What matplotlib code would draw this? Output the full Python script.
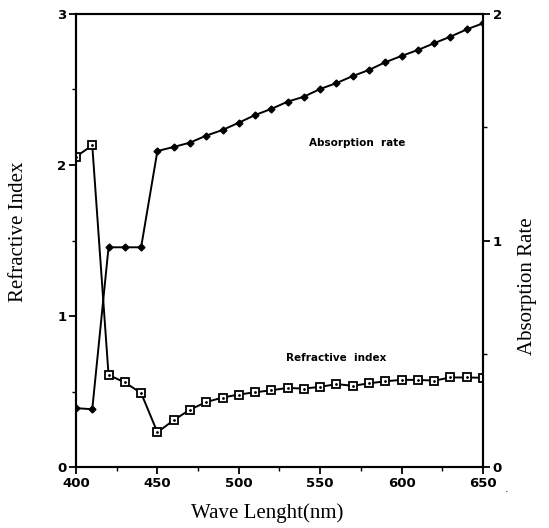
import matplotlib.pyplot as plt
from matplotlib.ticker import MultipleLocator

# wave length steps (nm)
wave = [400, 410, 420, 430, 440, 450, 460, 470, 480, 490, 500, 510, 520,
        530, 540, 550, 560, 570, 580, 590, 600, 610, 620, 630, 640, 650]

# refractive index (left axis)
refr = [2.055, 2.13, 0.61, 0.56, 0.49, 0.23, 0.31, 0.38, 0.43, 0.46, 0.48,
        0.495, 0.508, 0.524, 0.519, 0.531, 0.549, 0.538, 0.554, 0.568, 0.577,
        0.577, 0.572, 0.593, 0.593, 0.591]

# absorption rate (right axis)
absr = [0.26, 0.255, 0.97, 0.97, 0.97, 1.395, 1.413, 1.432, 1.463, 1.488,
        1.52, 1.554, 1.581, 1.613, 1.635, 1.669, 1.695, 1.726, 1.753, 1.787,
        1.815, 1.841, 1.871, 1.90, 1.932, 1.959]

tickfont = {"family": "DejaVu Sans", "weight": "bold", "size": 9.5}
labelfont = {"family": "Liberation Serif", "size": 15}

fig = plt.figure(figsize=(5.49, 5.28), dpi=100)
ax = fig.add_axes([0.1384, 0.1155, 0.7414, 0.858])
ax2 = ax.twinx()

ax.plot(wave, refr, color="black", lw=1.4, marker="s", ms=5.5,
        mfc="white", mec="black", mew=1.3, zorder=3)
ax.plot(wave, refr, ls="none", marker=".", ms=2, color="black", zorder=4)
ax2.plot(wave, absr, color="black", lw=1.4, marker="D", ms=3.5,
         mfc="black", mec="black")

ax.set_xlim(400, 650)
ax.set_ylim(0, 3)
ax2.set_ylim(0, 2)

ax.xaxis.set_major_locator(MultipleLocator(50))
ax.xaxis.set_minor_locator(MultipleLocator(25))
ax.yaxis.set_major_locator(MultipleLocator(1))
ax.yaxis.set_minor_locator(MultipleLocator(0.5))
ax2.yaxis.set_major_locator(MultipleLocator(1))
ax2.yaxis.set_minor_locator(MultipleLocator(0.5))

for a in (ax, ax2):
    for s in a.spines.values():
        s.set_linewidth(1.5)
    a.tick_params(which="major", length=5, width=1.3, direction="out", pad=2)
    a.tick_params(which="minor", length=3, width=1.0, direction="out")

ax.set_xticks(ax.get_xticks())
ax.set_xticklabels([str(int(v)) for v in ax.get_xticks()], fontdict=tickfont)
ax.set_yticks([0, 1, 2, 3])
ax.set_yticklabels(["0", "1", "2", "3"], fontdict=tickfont)
ax2.set_yticks([0, 1, 2])
ax2.set_yticklabels(["0", "1", "2"], fontdict=tickfont)
ax.set_xlim(400, 650)

ax.set_xlabel("Wave Lenght(nm)", fontdict=labelfont)
ax.xaxis.set_label_coords(0.47, -0.08)
ax.set_ylabel("Refractive Index", fontdict=labelfont)
ax.yaxis.set_label_coords(-0.118, 0.52)
ax2.set_ylabel("Absorption Rate", fontdict=labelfont, rotation=90)
ax2.yaxis.set_label_coords(1.086, 0.4)

ax2.text(573, 1.43, "Absorption  rate", fontsize=7.5, weight="bold",
         ha="center", va="center")
ax.text(560, 0.72, "Refractive  index", fontsize=7.5, weight="bold",
        ha="center", va="center")
fig.text(0.92, 0.068, ".", fontsize=8)

fig.savefig("out.png", dpi=100)
